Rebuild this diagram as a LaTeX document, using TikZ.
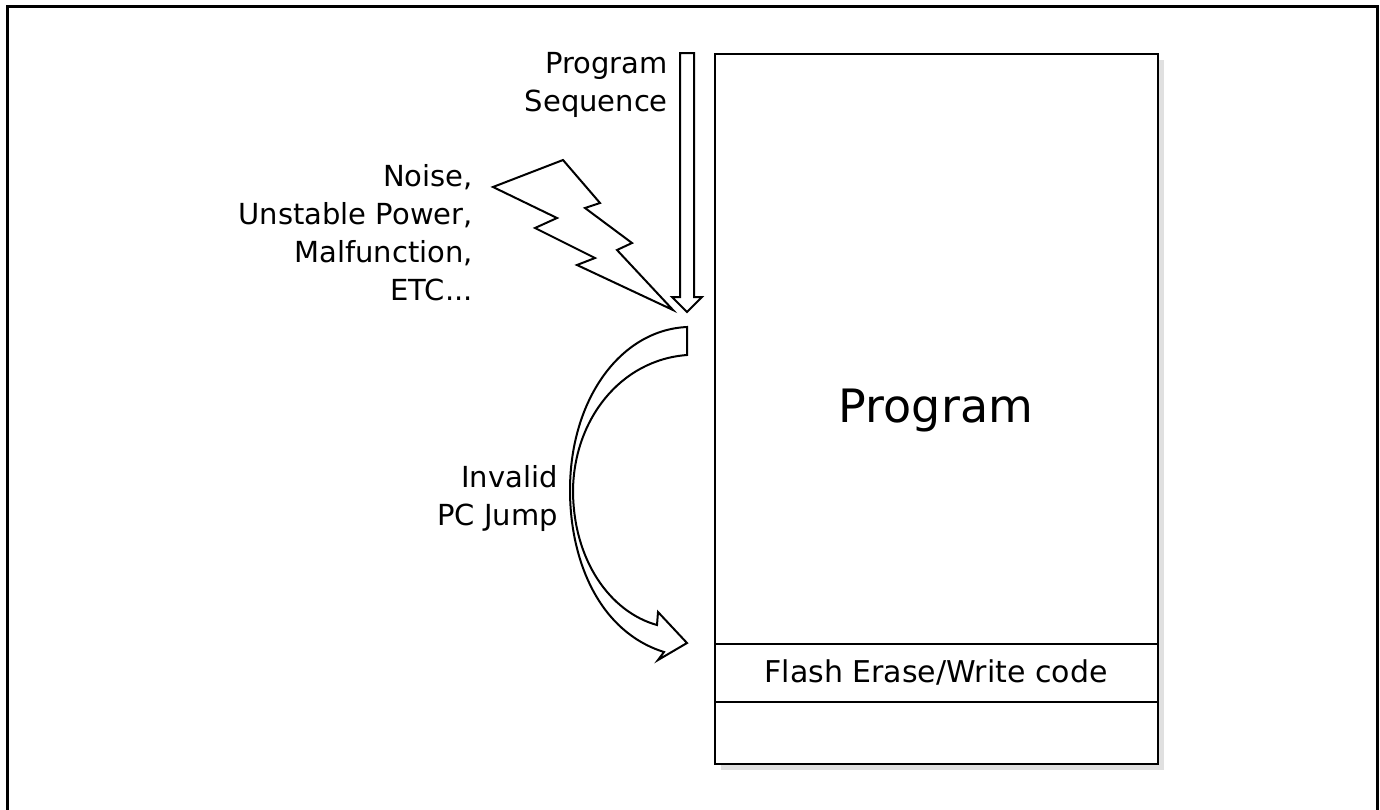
\documentclass[tikz,border=0pt]{standalone}
\usepackage{fontspec}
\setmainfont{DejaVu Sans}
\usetikzlibrary{calc}
\begin{document}
\begin{tikzpicture}[x=1pt, y=-1pt, line join=miter]
  \tikzset{
    side label/.style={font=\fontsize{29}{38}\selectfont, align=right, anchor=east, inner sep=0pt},
    outline/.style={draw=black, line width=2pt, fill=white},
    memory/.style={draw=black, line width=2.5pt, fill=white},
  }
  \useasboundingbox (0,0) rectangle (1380,809);
  \clip (0,0) rectangle (1380,809);
  % Outer frame
  \draw[line width=3pt] (7.5,830) -- (7.5,6) -- (1377,6) -- (1377,830);
  % Memory map
  \coordinate (M1) at (715,54);
  \coordinate (M2) at (1158,764);
  \fill[black!12] ($(M1)+(6,6)$) rectangle ($(M2)+(6,6)$);
  \draw[memory] (M1) rectangle (M2);
  \draw[line width=2.5pt] (715,644) -- (1158,644);
  \draw[line width=2.5pt] (715,702) -- (1158,702);
  \node[font=\fontsize{46}{50}\selectfont, anchor=base] (prog) at (936,422) {Program};
  \node[font=\fontsize{30}{36}\selectfont, anchor=base] (flash) at (936,682) {Flash Erase/Write code};
  % Program sequence arrow
  \draw[outline] (680,53) -- (694,53) -- (694,297) -- (702,297) -- (687,312)
    -- (672,297) -- (680,297) -- cycle;
  \node[side label] (seq) at (668,85) {Program\\Sequence};
  % Lightning bolt
  \draw[outline] (493,187) -- (563,160) -- (600,203) -- (585,208) -- (632,243)
    -- (617,250) -- (673,310) -- (577,265) -- (595,258) -- (535,228)
    -- (557,218) -- cycle;
  \node[side label] (noise) at (473,233) {Noise,\\Unstable Power,\\Malfunction,\\ETC...};
  % Invalid jump arrow
  \draw[outline] (687,327) -- (687,355)
    .. controls (620,360) and (574,420) .. (573,490)
    .. controls (573,560) and (610,612) .. (657,625)
    -- (658,612) -- (687,643) -- (658,660) -- (664,652)
    .. controls (600,632) and (570,562) .. (570,490)
    .. controls (570,400) and (620,330) .. cycle;
  \node[side label] (jump) at (558,498) {Invalid\\PC Jump};
\end{tikzpicture}
\end{document}
